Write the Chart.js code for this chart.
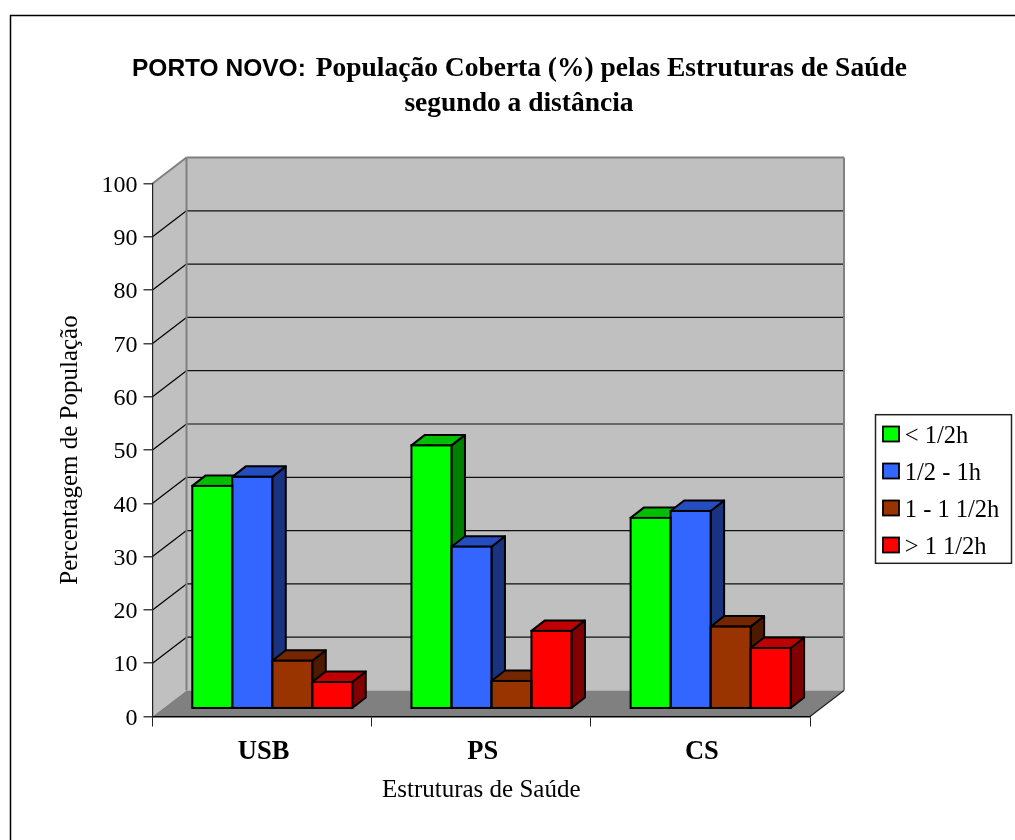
<!DOCTYPE html>
<html>
<head>
<meta charset="utf-8">
<style>html,body{margin:0;padding:0;background:#fff;overflow:hidden}canvas{display:block}</style>
<script src="https://cdn.jsdelivr.net/npm/chart.js@4"></script>
</head>
<body>
<canvas id="c" width="1015" height="840"></canvas>
<script>
const categories = ['USB', 'PS', 'CS'];
const seriesNames = ['< 1/2h', '1/2 - 1h', '1 - 1 1/2h', '> 1 1/2h'];
const under30 = [41.8, 49.4, 35.8];
const from30to60 = [43.5, 30.4, 37.1];
const from60to90 = [9.0, 5.2, 15.4];
const over90 = [5.0, 14.6, 11.4];
const frontColors = ['#00FF00', '#3366FF', '#993300', '#FF0000'];
const topColors = ['#00BF00', '#264DBF', '#732600', '#BF0000'];
const sideColors = ['#008000', '#1A3380', '#4D1A00', '#800000'];
const titleLead = 'PORTO NOVO:';
const titleRest = ' População Coberta (%) pelas Estruturas de Saúde';
const titleLine2 = 'segundo a distância';
const yAxisTitle = 'Percentagem de População';
const xAxisTitle = 'Estruturas de Saúde';

const SERIF = '"Liberation Serif"';
const WALL = {dx: 34, dy: -26};
const BAR = {dx: 13.5, dy: -10.5, shiftX: 10.2, shiftY: -7.8};

function poly(ctx, pts, fill, stroke, lw) {
  ctx.beginPath();
  pts.forEach((p, i) => i ? ctx.lineTo(p[0], p[1]) : ctx.moveTo(p[0], p[1]));
  ctx.closePath();
  if (fill) { ctx.fillStyle = fill; ctx.fill(); }
  if (stroke) { ctx.strokeStyle = stroke; ctx.lineWidth = lw; ctx.lineJoin = 'round'; ctx.stroke(); }
}
function seg(ctx, x1, y1, x2, y2, color, lw) {
  ctx.beginPath(); ctx.moveTo(x1, y1); ctx.lineTo(x2, y2);
  ctx.strokeStyle = color; ctx.lineWidth = lw; ctx.stroke();
}

const scene3d = {
  id: 'scene3d',
  afterLayout(chart) {
    const l = chart.legend;
    l.left = 870; l.top = 412; l.right = 1011; l.bottom = 640;
    l.width = l.right - l.left; l.height = l.bottom - l.top;
  },
  beforeDraw(chart) {
    const {ctx, chartArea: a} = chart;
    const y = chart.scales.y;
    const dx = WALL.dx, dy = WALL.dy;
    ctx.save();
    // outer frame, running off the page
    ctx.strokeStyle = '#000'; ctx.lineWidth = 1.5;
    ctx.strokeRect(10.5, 15.5, 3000, 3000);
    // title
    ctx.fillStyle = '#000'; ctx.textBaseline = 'alphabetic'; ctx.textAlign = 'left';
    ctx.font = 'bold 24.5px "Liberation Sans"';
    const w1 = ctx.measureText(titleLead).width;
    ctx.fillText(titleLead, 132, 76);
    ctx.font = 'bold 27.5px ' + SERIF;
    ctx.fillText(titleRest, 132 + w1 + 3, 76);
    ctx.textAlign = 'center';
    ctx.fillText(titleLine2, 519, 111);
    // walls and floor
    poly(ctx, [[a.left, a.top], [a.left + dx, a.top + dy], [a.left + dx, a.bottom + dy], [a.left, a.bottom]], '#C0C0C0');
    poly(ctx, [[a.left + dx, a.top + dy], [a.right + dx, a.top + dy], [a.right + dx, a.bottom + dy], [a.left + dx, a.bottom + dy]], '#C0C0C0');
    poly(ctx, [[a.left, a.bottom], [a.left + dx, a.bottom + dy], [a.right + dx, a.bottom + dy], [a.right, a.bottom]], '#808080');
    // wall grid, from the scale's own ticks
    y.ticks.forEach((t, i) => {
      if (t.value === 0 || t.value === 100) return;
      const py = y.getPixelForTick(i);
      seg(ctx, a.left, py, a.left + dx, py + dy, '#000', 1.2);
      seg(ctx, a.left + dx, py + dy, a.right + dx, py + dy, '#111', 1.2);
    });
    // frame lines
    seg(ctx, a.left, a.top, a.left + dx, a.top + dy, '#808080', 2);
    seg(ctx, a.left + dx, a.top + dy, a.right + dx, a.top + dy, '#808080', 2);
    seg(ctx, a.left + dx, a.top + dy, a.left + dx, a.bottom + dy, '#808080', 2);
    seg(ctx, a.right + dx, a.top + dy, a.right + dx, a.bottom + dy, '#808080', 2);
    seg(ctx, a.right, a.bottom, a.right + dx, a.bottom + dy, '#222', 1.2);
    // legend frame
    ctx.strokeStyle = '#222'; ctx.lineWidth = 1.5;
    ctx.strokeRect(875.5, 414.7, 136, 148.6);
    ctx.restore();
  },
  beforeDatasetsDraw(chart) {
    const {ctx} = chart;
    ctx.save();
    ctx.translate(BAR.shiftX, BAR.shiftY);
    chart.data.labels.forEach((_, j) => {
      chart.data.datasets.forEach((ds, i) => {
        const el = chart.getDatasetMeta(i).data[j];
        const l = el.x - el.width / 2, r = el.x + el.width / 2;
        const t = el.y, b = el.base;
        poly(ctx, [[r, b], [r + BAR.dx, b + BAR.dy], [r + BAR.dx, t + BAR.dy], [r, t]], sideColors[i], '#000', 2);
        poly(ctx, [[l, t], [l + BAR.dx, t + BAR.dy], [r + BAR.dx, t + BAR.dy], [r, t]], topColors[i], '#000', 2);
      });
    });
  },
  afterDatasetsDraw(chart) {
    const {ctx} = chart;
    chart.data.labels.forEach((_, j) => {
      chart.data.datasets.forEach((ds, i) => {
        const el = chart.getDatasetMeta(i).data[j];
        ctx.strokeStyle = '#000'; ctx.lineWidth = 2; ctx.lineJoin = 'miter';
        ctx.strokeRect(el.x - el.width / 2, el.y, el.width, el.base - el.y);
      });
    });
    ctx.restore();
  },
  afterDraw(chart) {
    // legend swatches, slightly wider than the library's own box
    const {ctx} = chart;
    ctx.save();
    frontColors.forEach((c, i) => {
      ctx.fillStyle = c; ctx.fillRect(883, 426.5 + i * 37, 16, 15);
      ctx.strokeStyle = '#000'; ctx.lineWidth = 1.8;
      ctx.strokeRect(883, 426.5 + i * 37, 16, 15);
    });
    ctx.restore();
  }
};

const seriesValues = [under30, from30to60, from60to90, over90];
const datasets = seriesNames.map((name, i) => ({
  label: name,
  data: seriesValues[i],
  backgroundColor: frontColors[i],
  borderWidth: 0,
  categoryPercentage: 0.73,
  barPercentage: 1
}));

new Chart(document.getElementById('c'), {
  type: 'bar',
  data: {labels: categories, datasets},
  plugins: [scene3d],
  options: {
    responsive: false,
    animation: false,
    maintainAspectRatio: false,
    layout: {padding: {top: 183.5, right: 205, left: 0, bottom: 0}},
    plugins: {
      title: {display: false},
      tooltip: {enabled: false},
      legend: {
        display: true,
        position: 'chartArea',
        align: 'start',
        labels: {
          color: '#000',
          boxWidth: 10,
          boxHeight: 9,
          padding: 12.5,
          font: {family: SERIF, size: 24.5}
        }
      }
    },
    scales: {
      x: {
        afterFit(s) { s.height = 123.5; },
        grid: {drawOnChartArea: false, color: '#222', tickLength: 10, lineWidth: 1},
        border: {color: '#000', width: 1.5},
        ticks: {color: '#000', padding: 10, labelOffset: 1.5, maxRotation: 0, font: {family: SERIF, size: 26.5, weight: 'bold'}},
        title: {display: true, text: xAxisTitle, color: '#000', padding: {top: 0, bottom: 35}, font: {family: SERIF, size: 25}}
      },
      y: {
        min: 0, max: 100,
        afterFit(s) { s.width = 152.5; },
        grid: {drawOnChartArea: false, color: '#444', tickLength: 9, lineWidth: 1.5},
        border: {color: '#222', width: 1.2},
        ticks: {color: '#000', stepSize: 10, padding: 6, labelOffset: 2, font: {family: SERIF, size: 24}},
        title: {display: true, text: yAxisTitle, color: '#000', padding: {top: 55, bottom: 0}, font: {family: SERIF, size: 25}}
      }
    }
  }
});
</script>
</body>
</html>
